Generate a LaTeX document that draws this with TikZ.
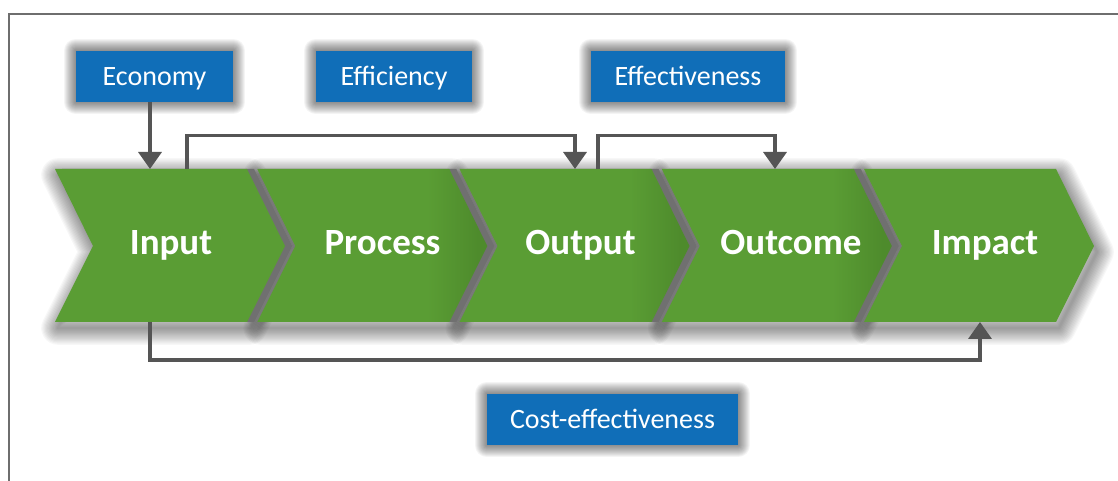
\documentclass[tikz,border=0pt]{standalone}
\usepackage{fontspec}
\setmainfont{Carlito}
\usetikzlibrary{arrows.meta}
\definecolor{chgreen}{RGB}{90,157,52}
\definecolor{chgreendark}{RGB}{78,139,44}
\definecolor{boxblue}{RGB}{16,110,184}
\definecolor{linegray}{RGB}{85,85,85}
\definecolor{bandgray}{RGB}{112,112,112}
\definecolor{framegray}{RGB}{110,110,110}
\pgfdeclarehorizontalshading{chevshade}{100bp}{color(0bp)=(chgreen); color(62bp)=(chgreen); color(73bp)=(chgreendark); color(100bp)=(chgreendark)}
\pgfdeclarelayer{bgfill}
\pgfdeclarelayer{shadowlayer}
\pgfsetlayers{bgfill,shadowlayer,main}
\tikzset{
  chevlabel/.style={text=white, font=\fontsize{37}{44}\selectfont\bfseries, inner sep=0pt, text height=24pt, text depth=0pt, anchor=center},
  bluebox/.style={fill=boxblue, text=white, font=\fontsize{28}{34}\selectfont, inner sep=0pt, text height=18pt, text depth=0pt, minimum height=51pt},
  conn/.style={draw=linegray, line width=3.5pt, line join=miter, -{Triangle[width=23pt,length=17pt]}},
  shadowstroke/.style={draw=black, line join=round, draw opacity=#1}
}
\newcommand{\chevpath}[1]{(#1,312) -- ({#1+192},312) -- ({#1+230},235) -- ({#1+192},159) -- (#1,159) -- ({#1+38},235) -- cycle}
% soft shadow: #1 path, #2 dx, #3 dy, #4 steps, #5 step size, #6 opacity
\newcommand{\softshadow}[6]{%
  \foreach \r in {1,...,#4} {
    \pgfmathsetmacro\w{2*\r*#5}
    \draw[shadowstroke=#6, line width=\w pt, shift={(#2,#3)}] #1;
  }%
}
\begin{document}
\begin{tikzpicture}[x=1pt,y=1pt]
\useasboundingbox (0,0) rectangle (1118,481);
\begin{pgfonlayer}{bgfill}
\fill[white] (0,0) rectangle (1118,481);
\end{pgfonlayer}
% frame
\draw[framegray, line width=1.5pt] (9,-5) -- (9,467) -- (1125,467);
% chevron soft shadows
\foreach \i in {0,...,4} {
  \pgfmathsetmacro\L{55+202.25*\i}
  \softshadow{\chevpath{\L}}{3}{-6}{14}{1.2}{0.03}
}
\foreach \i in {0,...,3} {
  \pgfmathsetmacro\L{55+202.25*\i+7}
  \fill[bandgray] \chevpath{\L};
}
% chevrons
\foreach \i in {0,...,4} {
  \pgfmathsetmacro\L{55+202.25*\i}
  \ifnum\i=0
    \fill[chgreen] \chevpath{\L};
  \else\ifnum\i=4
    \fill[chgreen] \chevpath{\L};
  \else
    \shade[shading=chevshade] \chevpath{\L};
  \fi\fi
}
% chevron labels
\node[chevlabel] (input)   at (171,238.5) {Input};
\node[chevlabel] (process) at (382.5,238.5) {Process};
\node[chevlabel] (output)  at (580.5,238.5) {Output};
\node[chevlabel] (outcome) at (791,238.5) {Outcome};
\node[chevlabel] (impact)  at (985,238.5) {Impact};
% blue boxes
\node[bluebox, minimum width=157pt] (economy) at (154.5,404.5) {Economy};
\node[bluebox, minimum width=156pt] (efficiency) at (394,404.5) {Efficiency};
\node[bluebox, minimum width=194pt] (effectiveness) at (688,404.5) {Effectiveness};
\node[bluebox, minimum width=251pt] (costeff) at (612.5,61.5) {Cost-effectiveness};
\begin{pgfonlayer}{shadowlayer}
\foreach \b in {economy,efficiency,effectiveness,costeff} {
  \softshadow{(\b.south west) rectangle (\b.north east)}{4}{-6}{12}{1}{0.045}
}
\end{pgfonlayer}
% connector coordinates
\coordinate (ecoOut) at (150,379);
\coordinate (inTopA) at (150,312);
\coordinate (inTopB) at (187,312);
\coordinate (outTopA) at (575,312);
\coordinate (outTopB) at (598,312);
\coordinate (ocTop) at (775,312);
\coordinate (inBot) at (150,159);
\coordinate (imBot) at (980,159);
\coordinate (topLevel) at (0,345.5);
\coordinate (botLevel) at (0,121);
% connectors
\draw[conn] (ecoOut) -- (inTopA);
\draw[conn] (inTopB) -- (inTopB |- topLevel) -- (outTopA |- topLevel) -- (outTopA);
\draw[conn] (outTopB) -- (outTopB |- topLevel) -- (ocTop |- topLevel) -- (ocTop);
\draw[conn] (inBot) -- (inBot |- botLevel) -- (imBot |- botLevel) -- (imBot);
\end{tikzpicture}
\end{document}
